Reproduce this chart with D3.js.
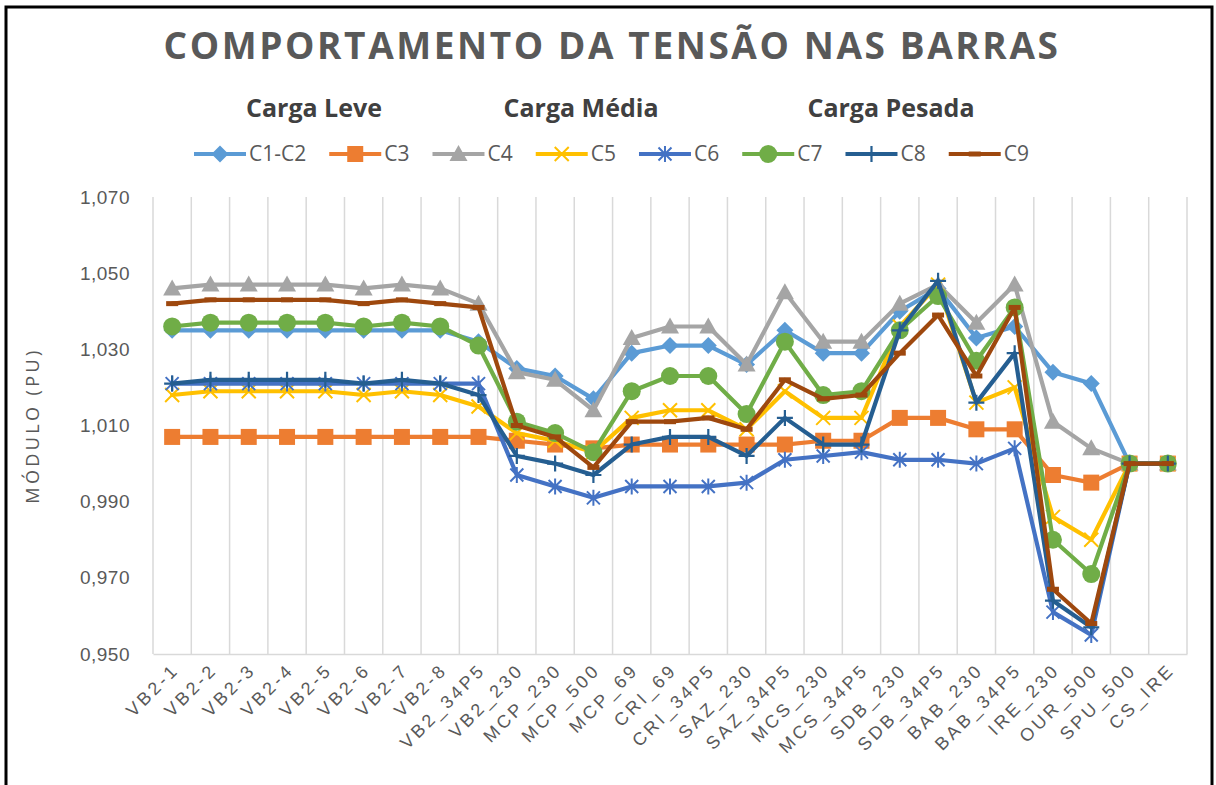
<!DOCTYPE html>
<html>
<head>
<meta charset="utf-8">
<script src="https://cdn.jsdelivr.net/npm/d3@7"></script>
<style>
  html, body { margin: 0; padding: 0; background: #fff; }
  svg { display: block; font-family: "Open Sans", "Noto Sans", sans-serif; }
</style>
</head>
<body>
<svg id="chart" width="1216" height="785"></svg>
<script>
// Bus names (x axis)
const categories = ["VB2-1","VB2-2","VB2-3","VB2-4","VB2-5","VB2-6","VB2-7","VB2-8","VB2_34P5",
  "VB2_230","MCP_230","MCP_500","MCP_69","CRI_69","CRI_34P5","SAZ_230","SAZ_34P5","MCS_230",
  "MCS_34P5","SDB_230","SDB_34P5","BAB_230","BAB_34P5","IRE_230","OUR_500","SPU_500","CS_IRE"];

// Voltage magnitude (pu) per case
const c1c2 = [1.035,1.035,1.035,1.035,1.035,1.035,1.035,1.035,1.032,
  1.025,1.023,1.017,1.029,1.031,1.031,1.026,1.035,1.029,
  1.029,1.040,1.046,1.033,1.036,1.024,1.021,1.000,1.000];
const c3 = [1.007,1.007,1.007,1.007,1.007,1.007,1.007,1.007,1.007,
  1.006,1.005,1.004,1.005,1.005,1.005,1.005,1.005,1.006,
  1.006,1.012,1.012,1.009,1.009,0.997,0.995,1.000,1.000];
const c4 = [1.046,1.047,1.047,1.047,1.047,1.046,1.047,1.046,1.042,
  1.024,1.022,1.014,1.033,1.036,1.036,1.026,1.045,1.032,
  1.032,1.042,1.047,1.037,1.047,1.011,1.004,1.000,1.000];
const c5 = [1.018,1.019,1.019,1.019,1.019,1.018,1.019,1.018,1.015,
  1.008,1.006,1.003,1.012,1.014,1.014,1.009,1.019,1.012,
  1.012,1.036,1.047,1.016,1.020,0.986,0.980,1.000,1.000];
const c6 = [1.021,1.021,1.021,1.021,1.021,1.021,1.021,1.021,1.021,
  0.997,0.994,0.991,0.994,0.994,0.994,0.995,1.001,1.002,
  1.003,1.001,1.001,1.000,1.004,0.961,0.955,1.000,1.000];
const c7 = [1.036,1.037,1.037,1.037,1.037,1.036,1.037,1.036,1.031,
  1.011,1.008,1.003,1.019,1.023,1.023,1.013,1.032,1.018,
  1.019,1.035,1.044,1.027,1.041,0.980,0.971,1.000,1.000];
const c8 = [1.021,1.022,1.022,1.022,1.022,1.021,1.022,1.021,1.018,
  1.002,1.000,0.997,1.005,1.007,1.007,1.002,1.012,1.005,
  1.005,1.035,1.048,1.016,1.029,0.964,0.957,1.000,1.000];
const c9 = [1.042,1.043,1.043,1.043,1.043,1.042,1.043,1.042,1.041,
  1.010,1.007,0.999,1.011,1.011,1.012,1.009,1.022,1.017,
  1.018,1.029,1.039,1.023,1.041,0.967,0.958,1.000,1.000];

const seriesNames = ["C1-C2","C3","C4","C5","C6","C7","C8","C9"];
const seriesValues = [c1c2, c3, c4, c5, c6, c7, c8, c9];
const yTicks = [0.950, 0.970, 0.990, 1.010, 1.030, 1.050, 1.070];
const loadLabels = ["Carga Leve", "Carga Média", "Carga Pesada"];
const titleText = "COMPORTAMENTO DA TENSÃO NAS BARRAS";
const yTitle = "MÓDULO (PU)";

// Styling per series
const colors = ["#5B9BD5","#ED7D31","#A5A5A5","#FFC000","#4472C4","#70AD47","#255E91","#9E480E"];
const markers = ["diamond","square","triangle","x","star","circle","plus","dash"];

const svg = d3.select("#chart");
const plot = { left: 153, right: 1187, top: 197, bottom: 654 };

// Outer frame
svg.append("rect").attr("x", 6).attr("y", 7).attr("width", 1206).attr("height", 790)
  .attr("fill", "#fff").attr("stroke", "#000").attr("stroke-width", 3);

const x = d3.scaleBand().domain(categories).range([plot.left, plot.right]).padding(0);
const y = d3.scaleLinear().domain([0.950, 1.070]).range([plot.bottom, plot.top]);
const cx = c => x(c) + x.bandwidth() / 2;

const ptBR = d3.formatLocale({ decimal: ",", thousands: ".", grouping: [3], currency: ["R$", ""] });
const fmt = ptBR.format(".3f");

// Vertical gridlines at category boundaries
const bounds = categories.map(c => x(c)).concat([plot.right]);
svg.append("g").selectAll("line").data(bounds).join("line")
  .attr("x1", d => d).attr("x2", d => d)
  .attr("y1", plot.top).attr("y2", plot.bottom)
  .attr("stroke", "#D9D9D9").attr("stroke-width", 1.5);

// Category axis
const xAxis = svg.append("g").attr("transform", `translate(0,${plot.bottom})`)
  .call(d3.axisBottom(x).tickSize(0).tickPadding(0));
xAxis.select(".domain").attr("stroke", "#D9D9D9").attr("stroke-width", 1.5);
xAxis.selectAll(".tick text")
  .attr("fill", "#595959").attr("font-size", 18).attr("letter-spacing", 3.2)
  .attr("text-anchor", "end").attr("dy", 0).attr("y", 0)
  .attr("transform", "translate(8,17) rotate(-45)");

// Value axis
const yAxis = svg.append("g").attr("transform", `translate(${plot.left},0)`)
  .call(d3.axisLeft(y).tickValues(yTicks).tickFormat(fmt).tickSize(0).tickPadding(23));
yAxis.select(".domain").remove();
yAxis.selectAll(".tick text").attr("fill", "#595959").attr("font-size", 19).attr("letter-spacing", 0.5);

svg.append("text").attr("transform", `translate(34,${(plot.top + plot.bottom) / 2}) rotate(-90)`)
  .attr("text-anchor", "middle").attr("dominant-baseline", "middle")
  .attr("fill", "#595959").attr("font-size", 18).attr("letter-spacing", 3.4)
  .text(yTitle);

// Title and load-level headings
svg.append("text").attr("x", 612).attr("y", 59).attr("text-anchor", "middle")
  .attr("fill", "#595959").attr("font-size", 37).attr("font-weight", 700).attr("letter-spacing", 2.6)
  .text(titleText);
const headX = [314, 581, 891];
svg.append("g").selectAll("text").data(loadLabels).join("text")
  .attr("x", (d, i) => headX[i]).attr("y", 117).attr("text-anchor", "middle")
  .attr("fill", "#404040").attr("font-size", 25).attr("font-weight", 700)
  .text(d => d);

// Marker drawing
function drawMarker(g, type, color) {
  switch (type) {
    case "diamond":
      g.append("path").attr("d", "M0,-8.5L8.5,0L0,8.5L-8.5,0Z").attr("fill", color); break;
    case "square":
      g.append("rect").attr("x", -8).attr("y", -8).attr("width", 16).attr("height", 16).attr("fill", color); break;
    case "triangle":
      g.append("path").attr("d", "M0,-9L9,7L-9,7Z").attr("fill", color); break;
    case "circle":
      g.append("circle").attr("r", 9).attr("fill", color); break;
    case "x":
      g.append("path").attr("d", "M-7,-7L7,7M-7,7L7,-7").attr("stroke", color).attr("stroke-width", 2).attr("fill", "none"); break;
    case "star":
      g.append("path").attr("d", "M-6.5,-6.5L6.5,6.5M-6.5,6.5L6.5,-6.5M0,-8L0,8").attr("stroke", color).attr("stroke-width", 2).attr("fill", "none"); break;
    case "plus":
      g.append("path").attr("d", "M-8,0L8,0M0,-8L0,8").attr("stroke", color).attr("stroke-width", 2.2).attr("fill", "none"); break;
    case "dash":
      g.append("rect").attr("x", -6).attr("y", -2.5).attr("width", 12).attr("height", 5).attr("fill", color); break;
  }
}

// Series: line then markers, in order
const line = d3.line().x((d, i) => cx(categories[i])).y(d => y(d));
seriesValues.forEach((vals, s) => {
  const g = svg.append("g");
  g.append("path").datum(vals).attr("d", line)
    .attr("fill", "none").attr("stroke", colors[s]).attr("stroke-width", 4.2)
    .attr("stroke-linejoin", "round").attr("stroke-linecap", "round");
  g.selectAll("g.m").data(vals).join("g").attr("class", "m")
    .attr("transform", (d, i) => `translate(${cx(categories[i])},${y(d)})`)
    .each(function () { drawMarker(d3.select(this), markers[s], colors[s]); });
});

// Legend: entries laid out left to right by text width
const legend = svg.append("g").attr("transform", "translate(0,154)");
let lx = 194;
seriesNames.forEach((name, i) => {
  const item = legend.append("g").attr("transform", `translate(${lx},0)`);
  item.append("line").attr("x1", 0).attr("x2", 52).attr("stroke", colors[i]).attr("stroke-width", 4);
  drawMarker(item.append("g").attr("transform", "translate(26,0)"), markers[i], colors[i]);
  const t = item.append("text").attr("x", 55).attr("dy", "0.35em").attr("fill", "#595959")
    .attr("font-size", 21).text(name);
  lx += 55 + t.node().getComputedTextLength() + 23;
});
</script>
</body>
</html>
